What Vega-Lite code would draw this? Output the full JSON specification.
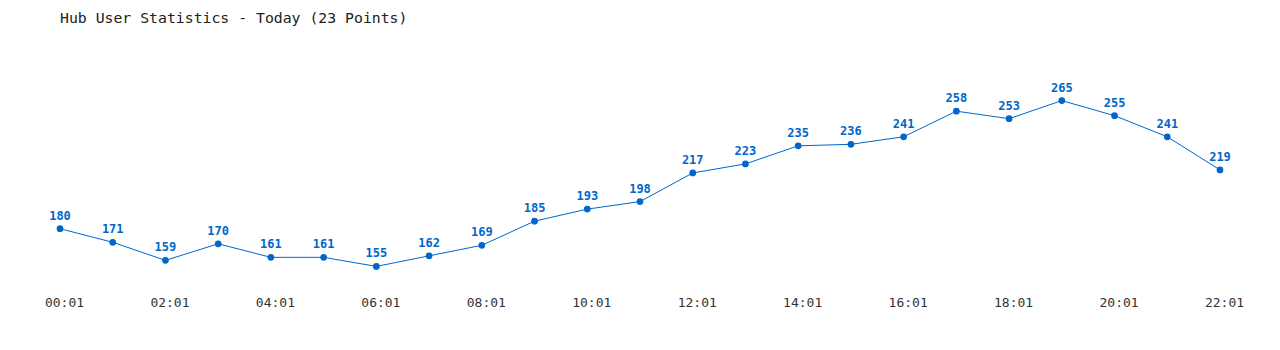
{
  "$schema": "https://vega.github.io/schema/vega-lite/v6.json",
  "width": 1160,
  "height": 211,
  "autosize": {"type": "none"},
  "padding": {"left": 60, "top": 78, "right": 60, "bottom": 61},
  "background": "white",
  "title": {
    "text": "Hub User Statistics - Today (23 Points)",
    "anchor": "start",
    "frame": "group",
    "font": "DejaVu Sans Mono",
    "fontSize": 14.8,
    "fontWeight": "normal",
    "color": "#222222",
    "offset": 52
  },
  "config": {"view": {"stroke": null}},
  "data": {
    "values": [
      {"time": "00:01", "users": 180},
      {"time": "01:01", "users": 171},
      {"time": "02:01", "users": 159},
      {"time": "03:01", "users": 170},
      {"time": "04:01", "users": 161},
      {"time": "05:01", "users": 161},
      {"time": "06:01", "users": 155},
      {"time": "07:01", "users": 162},
      {"time": "08:01", "users": 169},
      {"time": "09:01", "users": 185},
      {"time": "10:01", "users": 193},
      {"time": "11:01", "users": 198},
      {"time": "12:01", "users": 217},
      {"time": "13:01", "users": 223},
      {"time": "14:01", "users": 235},
      {"time": "15:01", "users": 236},
      {"time": "16:01", "users": 241},
      {"time": "17:01", "users": 258},
      {"time": "18:01", "users": 253},
      {"time": "19:01", "users": 265},
      {"time": "20:01", "users": 255},
      {"time": "21:01", "users": 241},
      {"time": "22:01", "users": 219}
    ]
  },
  "encoding": {
    "x": {
      "field": "time",
      "type": "ordinal",
      "sort": null,
      "scale": {"type": "point", "padding": 0},
      "axis": {
        "title": null,
        "values": ["00:01", "02:01", "04:01", "06:01", "08:01", "10:01", "12:01", "14:01", "16:01", "18:01", "20:01", "22:01"],
        "labelAngle": 0,
        "domain": false,
        "ticks": false,
        "grid": false,
        "labelFont": "DejaVu Sans Mono",
        "labelFontSize": 13,
        "labelColor": "#333333",
        "labelPadding": 7,
        "labelOffset": 4
      }
    },
    "y": {
      "field": "users",
      "type": "quantitative",
      "scale": {"domain": [140, 280], "zero": false, "nice": false},
      "axis": null
    }
  },
  "layer": [
    {"mark": {"type": "line", "color": "#0066cc", "strokeWidth": 1}},
    {"mark": {"type": "circle", "color": "#0066cc", "opacity": 1, "size": 45}},
    {
      "mark": {
        "type": "text",
        "color": "#0066cc",
        "font": "DejaVu Sans Mono",
        "fontSize": 12,
        "fontWeight": "bold",
        "dy": -13,
        "baseline": "middle"
      },
      "encoding": {"text": {"field": "users", "type": "quantitative"}}
    }
  ]
}
